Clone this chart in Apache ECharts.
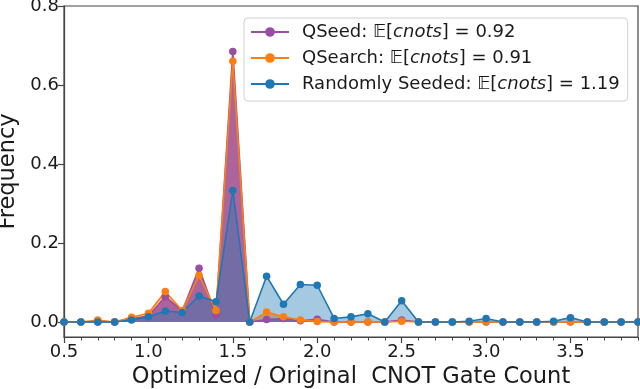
<!DOCTYPE html>
<html>
<head>
<meta charset="utf-8">
<script src="https://cdn.jsdelivr.net/npm/echarts@6/dist/echarts.min.js"></script>
<style>html,body{margin:0;padding:0;background:#fff;}#c{width:640px;height:389px;}</style>
</head>
<body>
<div id="c"></div>
<script>
const xVals = [0.5,0.6,0.7,0.8,0.9,1.0,1.1,1.2,1.3,1.4,1.5,1.6,1.7,1.8,1.9,2.0,2.1,2.2,2.3,2.4,2.5,2.6,2.7,2.8,2.9,3.0,3.1,3.2,3.3,3.4,3.5,3.6,3.7,3.8,3.9];
const qseed = [0,0,0,0,0.008,0.015,0.064,0.028,0.136,0.018,0.685,0,0.006,0.009,0.003,0.007,0,0,0,0,0.005,0,0,0,0,0,0,0,0,0,0,0,0,0,0];
const qsearch = [0,0,0.005,0,0.012,0.022,0.077,0.029,0.118,0.029,0.66,0,0.025,0.013,0.005,0.001,0,0,0,0,0.002,0,0,0,0,0.001,0,0,0,0,0.001,0,0,0,0];
const randomSeeded = [0,0,0,0,0.005,0.013,0.028,0.024,0.066,0.051,0.333,0,0.116,0.045,0.095,0.093,0.009,0.013,0.021,0,0.054,0,0,0,0.002,0.009,0,0,0,0.002,0.011,0,0,0,0];
const xTickLabels = [0.5,1.0,1.5,2.0,2.5,3.0,3.5];
const yTickLabels = [0.0,0.2,0.4,0.6,0.8];
const seriesNames = ['QSeed', 'QSearch', 'Randomly Seeded'];
const expectations = ['0.92', '0.91', '1.19'];

const C_PURPLE = '#984ea3', C_ORANGE = '#ff7f0e', C_BLUE = '#1f77b4';
const FONT = 'DejaVu Sans';
const pairs = arr => xVals.map((x, i) => [x, arr[i]]);

function areaSeries(name, arr, color, opacity) {
  return {
    name: name + '_area', type: 'line', data: pairs(arr), symbol: 'none', showSymbol: false,
    lineStyle: { width: 0, color: color }, itemStyle: { color: color },
    areaStyle: { color: color, opacity: opacity, origin: 0 },
    xAxisIndex: 0, yAxisIndex: 0, silent: true, animation: false
  };
}
function lineSeries(name, arr, color) {
  return {
    name: name, type: 'line', data: pairs(arr), symbol: 'circle', symbolSize: 7.5,
    lineStyle: { width: 1.6, color: color }, itemStyle: { color: color },
    xAxisIndex: 0, yAxisIndex: 0, animation: false
  };
}

const chart = echarts.init(document.getElementById('c'), null, { renderer: 'canvas' });
const rich = {
  sp: { width: 8 },
  t: { fontFamily: FONT, fontSize: 18, color: '#1a1a1a' },
  bb: { fontFamily: FONT, fontSize: 18, color: '#1a1a1a' },
  it: { fontFamily: FONT, fontSize: 18, fontStyle: 'italic', color: '#1a1a1a' }
};
chart.setOption({
  animation: false,
  textStyle: { fontFamily: FONT },
  grid: { left: 64, right: 2, top: 6, bottom: 52, outerBoundsMode: 'none', containLabel: false,
    show: true, borderColor: '#444', borderWidth: 1.2, backgroundColor: 'transparent' },
  legend: {
    data: seriesNames, orient: 'vertical', left: 244, top: 18,
    padding: [5, 8, 8, 6], itemGap: 8, itemWidth: 38, itemHeight: 12,
    backgroundColor: 'rgba(255,255,255,0.85)', borderColor: '#d0d0d0', borderWidth: 1, borderRadius: 4,
    textStyle: { fontFamily: FONT, fontSize: 18, color: '#1a1a1a', rich: rich },
    formatter: function (name) {
      const i = seriesNames.indexOf(name);
      return '{sp|}{t|' + name + ': }{bb|𝔼}{t|[}{it|cnots}{t|] = ' + expectations[i] + '}';
    }
  },
  xAxis: [{
    type: 'value', min: 0.5, max: 3.9, interval: 0.5,
    name: 'Optimized / Original  CNOT Gate Count', nameLocation: 'middle', nameGap: 28,
    nameTextStyle: { fontFamily: FONT, fontSize: 22.5, color: '#1a1a1a' },
    axisLine: { show: true, onZero: false, lineStyle: { color: '#444', width: 1.2 } },
    axisTick: { show: true, length: 6, customValues: xTickLabels, lineStyle: { color: '#444', width: 1.2 } },
    axisLabel: { customValues: xTickLabels, fontFamily: FONT, fontSize: 18, color: '#1a1a1a', margin: 6,
      formatter: v => v.toFixed(1) },
    splitLine: { show: false }
  }, {
    type: 'value', min: 0.5, max: 3.9, interval: 0.1, position: 'bottom',
    axisLine: { show: false, onZero: false },
    axisTick: { show: true, length: 3.5, lineStyle: { color: '#444', width: 1 } },
    axisLabel: { show: false }, splitLine: { show: false }
  }],
  yAxis: {
    type: 'value', min: -0.038, max: 0.8,
    name: 'Frequency', nameLocation: 'middle', nameGap: 42, nameRotate: 90,
    nameTextStyle: { fontFamily: FONT, fontSize: 22.5, color: '#1a1a1a' },
    axisLine: { show: true, onZero: false, lineStyle: { color: '#444', width: 1.2 } },
    axisTick: { show: true, length: 6, customValues: yTickLabels, lineStyle: { color: '#444', width: 1.2 } },
    axisLabel: { customValues: yTickLabels, fontFamily: FONT, fontSize: 18, color: '#1a1a1a', margin: 5,
      formatter: v => v.toFixed(1) },
    splitLine: { show: false }
  },
  series: [
    areaSeries('QSearch', qsearch, C_ORANGE, 0.5),
    areaSeries('QSeed', qseed, C_PURPLE, 0.8),
    areaSeries('Randomly Seeded', randomSeeded, C_BLUE, 0.4),
    lineSeries('QSeed', qseed, C_PURPLE),
    lineSeries('QSearch', qsearch, C_ORANGE),
    lineSeries('Randomly Seeded', randomSeeded, C_BLUE)
  ]
});
</script>
</body>
</html>
